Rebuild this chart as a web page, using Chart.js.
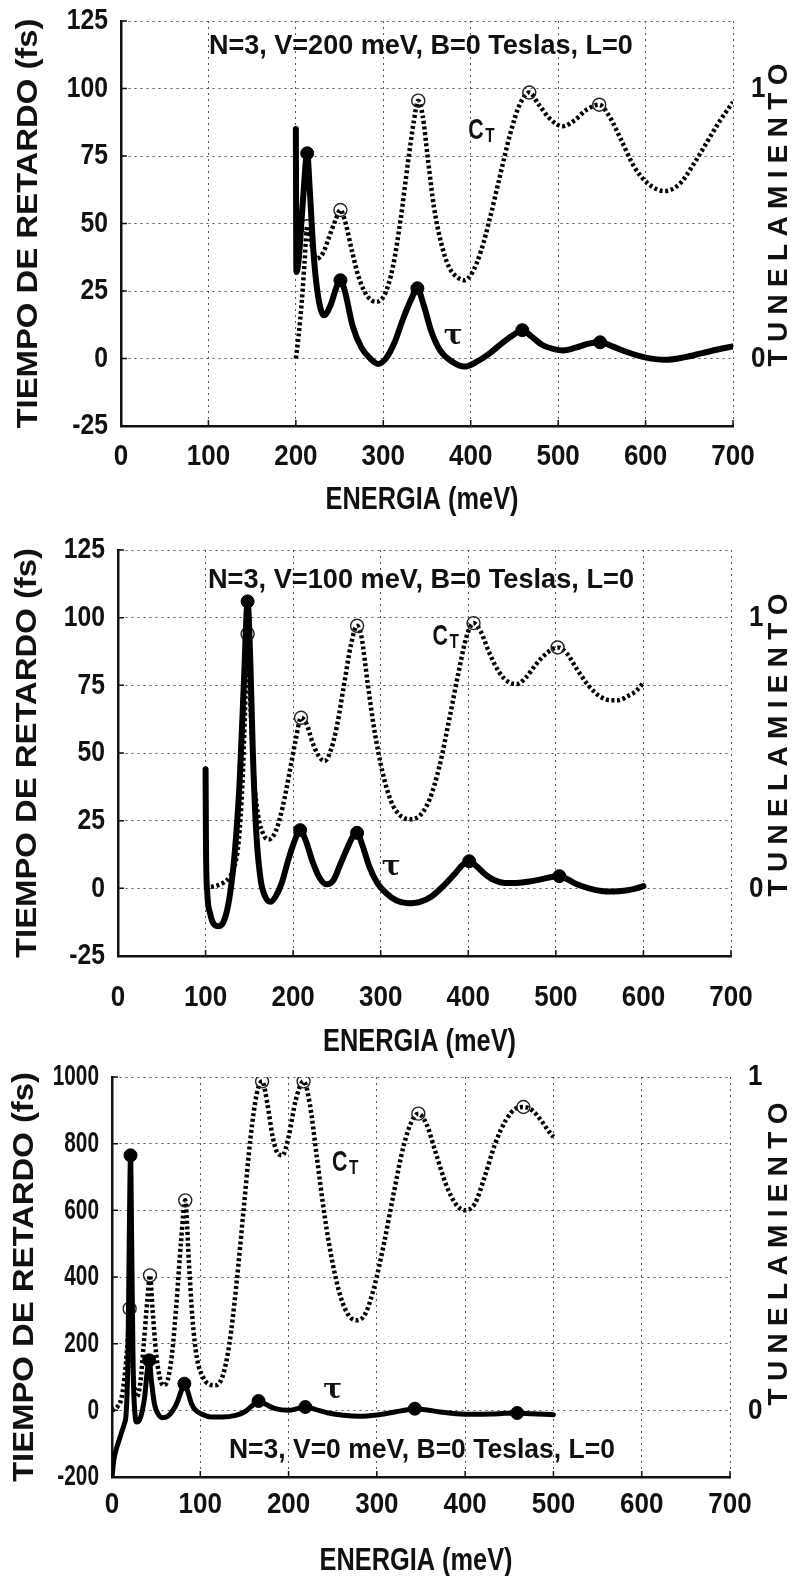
<!DOCTYPE html>
<html>
<head>
<meta charset="utf-8">
<script src="https://cdn.jsdelivr.net/npm/chart.js@4/dist/chart.umd.min.js"></script>
<style>
  html, body { margin: 0; padding: 0; background: #fff; width: 802px; height: 1576px; overflow: hidden; }
  canvas { position: absolute; left: 0; display: block; }
</style>
</head>
<body>
<canvas id="p200" width="802" height="525" style="top:0px"></canvas>
<canvas id="p100" width="802" height="535" style="top:525px"></canvas>
<canvas id="p0" width="802" height="526" style="top:1050px"></canvas>
<script>
// ---------- shared ticks ----------
const energyTicks = [0, 100, 200, 300, 400, 500, 600, 700];
const tunnelTicks = [0, 1];
const delayTicksLow = [-25, 0, 25, 50, 75, 100, 125];
const delayTicksHigh = [-200, 0, 200, 400, 600, 800, 1000];

// ---------- V = 200 meV : [energy (meV), value] ----------
const tau200 = [[200,85],[200.6,32],[203,36],[208,58],[213,76],[216,62],[220,40],[225,24],[232,16],[240,20],[246,26],[251,29],[256,25],[265,12],[275,4],[285,0],[294,-2],[303,0],[313,6],[323,15],[332,22],[339,26],[346,20],[355,10],[365,3],[378,-1],[393,-3],[408,-1],[422,2],[437,6],[450,9],[459,10.5],[470,8],[482,5],[495,3.5],[506,3],[520,4],[535,5.5],[548,6],[562,4.5],[578,2.5],[598,0.5],[622,-0.5],[645,0.5],[665,2],[685,3.5],[700,4.5]];
const ct200 = [[200,0],[203,0.08],[207,0.22],[210,0.36],[213,0.49],[218,0.42],[224,0.37],[231,0.39],[238,0.45],[245,0.51],[251,0.55],[257,0.5],[264,0.4],[272,0.3],[282,0.23],[292,0.21],[302,0.24],[311,0.34],[320,0.52],[328,0.72],[335,0.88],[340,0.955],[345,0.9],[351,0.74],[358,0.56],[366,0.43],[375,0.34],[385,0.3],[393,0.29],[402,0.32],[412,0.4],[422,0.52],[433,0.67],[445,0.83],[456,0.94],[467,0.985],[478,0.94],[490,0.89],[505,0.86],[518,0.88],[532,0.92],[547,0.94],[558,0.9],[572,0.81],[587,0.71],[602,0.65],[622,0.62],[640,0.65],[655,0.72],[670,0.8],[685,0.88],[700,0.95]];
const tauPeaks200 = [[213,76],[251,29],[339,26],[459,10.5],[548,6]];
const ctPeaks200 = [[213,0.49],[251,0.55],[340,0.955],[467,0.985],[547,0.94]];

// ---------- V = 100 meV ----------
const tau100 = [[100,44],[100.5,15],[102,-2],[105,-9],[109,-13],[115,-14],[121,-12],[127,-4],[133,12],[139,40],[144,78],[148,106],[151,85],[154,50],[158,20],[163,3],[168,-3],[174,-5],[180,-3],[187,2],[194,10],[201,17],[208,21.5],[214,18],[222,10],[230,4],[238,1.5],[246,3],[254,9],[262,15],[268,19],[273,20.5],[279,16],[287,8],[296,2],[307,-2],[318,-4.5],[331,-5.5],[345,-5],[358,-3],[372,1],[385,5.5],[393,8.5],[401,10],[410,8],[420,5],[430,3],[442,2],[455,2],[470,2.5],[485,3.5],[497,4.3],[504,4.5],[512,3.5],[524,1.5],[538,0],[552,-1],[566,-1.2],[580,-0.8],[592,0],[600,0.8]];
const ct100 = [[100,0],[106,0.005],[113,0.01],[120,0.02],[127,0.04],[133,0.08],[138,0.18],[142,0.38],[145,0.65],[148,0.94],[151,0.7],[155,0.42],[160,0.27],[166,0.2],[172,0.18],[180,0.21],[188,0.3],[196,0.43],[203,0.55],[209,0.63],[215,0.61],[222,0.54],[229,0.49],[236,0.47],[243,0.51],[250,0.6],[258,0.75],[266,0.9],[273,0.97],[278,0.93],[285,0.76],[293,0.58],[302,0.43],[312,0.32],[322,0.27],[333,0.255],[345,0.27],[356,0.33],[367,0.45],[378,0.62],[389,0.8],[398,0.93],[406,0.98],[414,0.95],[424,0.87],[435,0.8],[447,0.76],[456,0.755],[466,0.78],[478,0.83],[490,0.87],[502,0.89],[512,0.87],[524,0.81],[537,0.75],[550,0.71],[562,0.695],[572,0.695],[582,0.71],[592,0.73],[600,0.76]];
const tauPeaks100 = [[148,106],[208,21.5],[273,20.5],[401,10],[504,4.5]];
const ctPeaks100 = [[148,0.94],[209,0.63],[273,0.97],[406,0.98],[502,0.89]];

// ---------- V = 0 meV ----------
const tau0 = [[0,-200],[2,-150],[5,-115],[8,-90],[11,-65],[14,-40],[16,-10],[18,150],[19.5,500],[21,765],[22.5,450],[24,120],[26,-10],[28,-35],[31,-30],[34,-5],[37,40],[40,120],[42,150],[45,80],[48,20],[52,-10],[57,-22],[63,-18],[69,0],[74,25],[78,55],[82,80],[86,55],[90,20],[95,0],[102,-12],[112,-20],[125,-20],[140,-15],[150,-5],[158,12],[166,28],[174,18],[185,5],[200,0],[210,5],[219,10],[230,3],[245,-8],[262,-15],[280,-18],[300,-14],[320,-5],[335,2],[343,5],[355,2],[372,-5],[390,-10],[410,-12],[430,-11],[445,-9],[459,-8],[475,-10],[490,-12],[500,-13]];
const ct0 = [[0,0],[6,0.01],[11,0.04],[15,0.12],[18,0.22],[20,0.305],[22,0.2],[25,0.08],[28,0.04],[32,0.08],[36,0.2],[40,0.33],[43,0.405],[46,0.3],[50,0.17],[54,0.1],[58,0.075],[63,0.09],[68,0.17],[73,0.32],[78,0.5],[83,0.63],[87,0.45],[91,0.28],[96,0.16],[103,0.1],[110,0.078],[117,0.075],[125,0.1],[133,0.2],[141,0.38],[149,0.6],[157,0.82],[164,0.95],[170,0.987],[176,0.92],[182,0.82],[188,0.77],[193,0.765],[200,0.82],[208,0.93],[217,0.987],[224,0.92],[232,0.76],[241,0.58],[250,0.44],[259,0.34],[268,0.285],[277,0.27],[287,0.29],[297,0.37],[308,0.5],[319,0.65],[330,0.79],[340,0.87],[347,0.89],[356,0.86],[367,0.77],[378,0.68],[389,0.62],[400,0.6],[411,0.62],[422,0.7],[434,0.8],[446,0.87],[457,0.905],[466,0.91],[476,0.9],[486,0.87],[494,0.84],[500,0.82]];
const tauPeaks0 = [[21,765],[42,150],[82,80],[166,28],[219,10],[343,5],[459,-8]];
const ctPeaks0 = [[20,0.305],[43,0.405],[83,0.63],[170,0.987],[217,0.987],[347,0.89],[466,0.91]];

// ---------- drawing helpers ----------
const INK = '#111';
const SANS = '"Liberation Sans", Arial, sans-serif';
const TALL = 1.15; // printed lettering is set a little taller than wide

// one line of text, scaled along x (sx) and y (sy) about its anchor
function putText(ctx, text, px, py, font, align, sx, sy) {
  ctx.save();
  ctx.translate(px, py);
  ctx.scale(sx, sy);
  ctx.font = font;
  ctx.textAlign = align;
  ctx.textBaseline = 'middle';
  ctx.fillStyle = INK;
  ctx.fillText(text, 0, 0);
  ctx.restore();
}

// text squeezed/stretched along its baseline to a given length
function fitText(ctx, text, cx, cy, font, length, rotated, sy) {
  ctx.save();
  ctx.font = font;
  const w = ctx.measureText(text).width;
  ctx.translate(cx, cy);
  if (rotated) ctx.rotate(-Math.PI / 2);
  ctx.scale(length / w, sy || 1);
  ctx.textAlign = 'center';
  ctx.textBaseline = 'middle';
  ctx.fillStyle = INK;
  ctx.fillText(text, 0, 0);
  ctx.restore();
}

// letters spread evenly over a given length, reading bottom to top
function spreadText(ctx, text, cx, cy, font, length) {
  ctx.save();
  ctx.font = font;
  const chars = [...text];
  const widths = chars.map(ch => ctx.measureText(ch).width);
  const total = widths.reduce((s, v) => s + v, 0);
  const gap = (length - total) / (chars.length - 1);
  ctx.translate(cx, cy);
  ctx.rotate(-Math.PI / 2);
  ctx.textAlign = 'left';
  ctx.textBaseline = 'middle';
  ctx.fillStyle = INK;
  let pos = -length / 2;
  chars.forEach((ch, i) => { ctx.fillText(ch, pos, 0); pos += widths[i] + gap; });
  ctx.restore();
}

const panelText = {
  id: 'panelText',
  afterDraw(chart, args, o) {
    const { ctx, chartArea: a, scales: { x, y, yR } } = chart;
    ctx.save();
    // short inward ticks along the solid axes
    ctx.strokeStyle = INK; ctx.lineWidth = 1.5;
    ctx.beginPath();
    x.ticks.forEach(t => { const px = x.getPixelForValue(t.value); ctx.moveTo(px, a.bottom); ctx.lineTo(px, a.bottom - 6); });
    y.ticks.forEach(t => { const py = y.getPixelForValue(t.value); ctx.moveTo(a.left, py); ctx.lineTo(a.left + 6, py); });
    ctx.stroke();

    // tick labels
    const tickFont = 'bold 26px ' + SANS;
    x.ticks.forEach(t => putText(ctx, String(t.value), x.getPixelForValue(t.value), a.bottom + o.xLabelGap, tickFont, 'center', 1, TALL));
    y.ticks.forEach(t => putText(ctx, String(t.value), a.left - 13, y.getPixelForValue(t.value), tickFont, 'right', o.yLabelSx, TALL));
    yR.ticks.forEach(t => putText(ctx, String(t.value), a.right + 18, yR.getPixelForValue(t.value), tickFont, 'left', 1, TALL));

    // parameter line inside the plot
    fitText(ctx, o.caption, x.getPixelForValue(o.captionAt[0]), y.getPixelForValue(o.captionAt[1]),
      'bold 24px ' + SANS, o.captionLen, false, TALL);

    // curve names
    const cx = x.getPixelForValue(o.ctAt[0]), cy = y.getPixelForValue(o.ctAt[1]);
    putText(ctx, 'C', cx, cy, 'bold 26px ' + SANS, 'center', 0.82, TALL);
    putText(ctx, 'T', cx + 14, cy + 5, 'bold 18px ' + SANS, 'center', 0.85, TALL);
    putText(ctx, 'τ', x.getPixelForValue(o.tauAt[0]), y.getPixelForValue(o.tauAt[1]),
      'bold 28px "DejaVu Serif", "Liberation Serif", serif', 'center', 1, 1);

    // axis titles
    fitText(ctx, 'ENERGIA (meV)', (a.left + a.right) / 2 - 5, a.bottom + o.xTitleGap,
      'bold 27px ' + SANS, 193, false, TALL);
    fitText(ctx, 'TIEMPO DE RETARDO (fs)', o.yTitleX, (a.top + a.bottom) / 2,
      'bold 30px ' + SANS, 410, true, 1);
    spreadText(ctx, 'TUNELAMIENTO', 779, o.rTitleY, 'bold 28px ' + SANS, 303);
    ctx.restore();
  }
};

const pts = arr => arr.map(([x, y]) => ({ x, y }));

function buildPanel(id, p) {
  const canvas = document.getElementById(id);
  const W = canvas.width, H = canvas.height;
  const yMin = p.delayTicks[0], yMax = p.delayTicks[p.delayTicks.length - 1];
  new Chart(canvas, {
    type: 'line',
    data: {
      datasets: [
        { data: pts(p.tauPeaks), yAxisID: 'y', showLine: false, order: 0,
          pointRadius: 6.5, pointBackgroundColor: '#000', pointBorderColor: '#000', pointBorderWidth: 1 },
        { data: pts(p.tau), yAxisID: 'y', order: 1, borderColor: '#000', borderWidth: p.tauWidth,
          pointRadius: 0, cubicInterpolationMode: 'monotone', borderJoinStyle: 'round', borderCapStyle: 'round' },
        { data: pts(p.ctPeaks), yAxisID: 'yR', showLine: false, order: 2,
          pointRadius: 6.5, pointBackgroundColor: 'rgba(0,0,0,0)', pointBorderColor: '#222', pointBorderWidth: 1.4 },
        { data: pts(p.ct), yAxisID: 'yR', order: 3, borderColor: '#000', borderWidth: 4.5, borderDash: [3, 2.6],
          pointRadius: 0, cubicInterpolationMode: 'monotone', borderCapStyle: 'butt' }
      ]
    },
    options: {
      responsive: false, animation: false, devicePixelRatio: 1,
      layout: { padding: { top: p.box.top, left: 0, right: 0, bottom: 0 }, autoPadding: false },
      plugins: { legend: { display: false }, tooltip: { enabled: false }, panelText: p.text },
      scales: {
        x: {
          type: 'linear', min: energyTicks[0], max: energyTicks[energyTicks.length - 1],
          afterBuildTicks: s => { s.ticks = energyTicks.map(v => ({ value: v })); },
          ticks: { display: false },
          grid: { color: '#555', lineWidth: 1, drawTicks: false },
          border: { display: true, color: INK, width: 2.5, dash: [2, 4] },
          afterFit: s => { s.height = H - p.box.bottom; }
        },
        y: {
          position: 'left', min: yMin, max: yMax,
          afterBuildTicks: s => { s.ticks = p.delayTicks.map(v => ({ value: v })); },
          ticks: { display: false },
          grid: { color: '#555', lineWidth: 1, drawTicks: false },
          border: { display: true, color: INK, width: 2.5, dash: [2, 4] },
          afterFit: s => { s.width = p.box.left; }
        },
        yR: {
          position: 'right', min: yMin / p.ctFull, max: yMax / p.ctFull,
          afterBuildTicks: s => { s.ticks = tunnelTicks.map(v => ({ value: v })); },
          ticks: { display: false },
          grid: { display: false, drawTicks: false },
          border: { display: false },
          afterFit: s => { s.width = W - p.box.right; }
        }
      }
    },
    plugins: [panelText]
  });
}

buildPanel('p200', {
  tau: tau200, ct: ct200, tauPeaks: tauPeaks200, ctPeaks: ctPeaks200,
  delayTicks: delayTicksLow, ctFull: 100, tauWidth: 6,
  box: { top: 21, bottom: 426, left: 121, right: 733 },
  text: { caption: 'N=3, V=200 meV, B=0 Teslas, L=0', captionAt: [343, 115.7], captionLen: 424,
          ctAt: [406, 84.3], tauAt: [380, 8], xLabelGap: 31, yLabelSx: 0.95, xTitleGap: 74, yTitleX: 29, rTitleY: 215 }
});
buildPanel('p100', {
  tau: tau100, ct: ct100, tauPeaks: tauPeaks100, ctPeaks: ctPeaks100,
  delayTicks: delayTicksLow, ctFull: 100, tauWidth: 6,
  box: { top: 25, bottom: 431, left: 118, right: 731 },
  text: { caption: 'N=3, V=100 meV, B=0 Teslas, L=0', captionAt: [346, 113.9], captionLen: 426,
          ctAt: [368, 92.8], tauAt: [312, 7.5], xLabelGap: 42, yLabelSx: 0.95, xTitleGap: 86, yTitleX: 28, rTitleY: 220 }
});
buildPanel('p0', {
  tau: tau0, ct: ct0, tauPeaks: tauPeaks0, ctPeaks: ctPeaks0,
  delayTicks: delayTicksHigh, ctFull: 1000, tauWidth: 5,
  box: { top: 27, bottom: 427, left: 112, right: 730 },
  text: { caption: 'N=3, V=0 meV, B=0 Teslas, L=0', captionAt: [351, -121], captionLen: 386,
          ctAt: [258, 742], tauAt: [250, 58], xLabelGap: 28, yLabelSx: 0.8, xTitleGap: 84, yTitleX: 25, rTitleY: 204 }
});
</script>
</body>
</html>
